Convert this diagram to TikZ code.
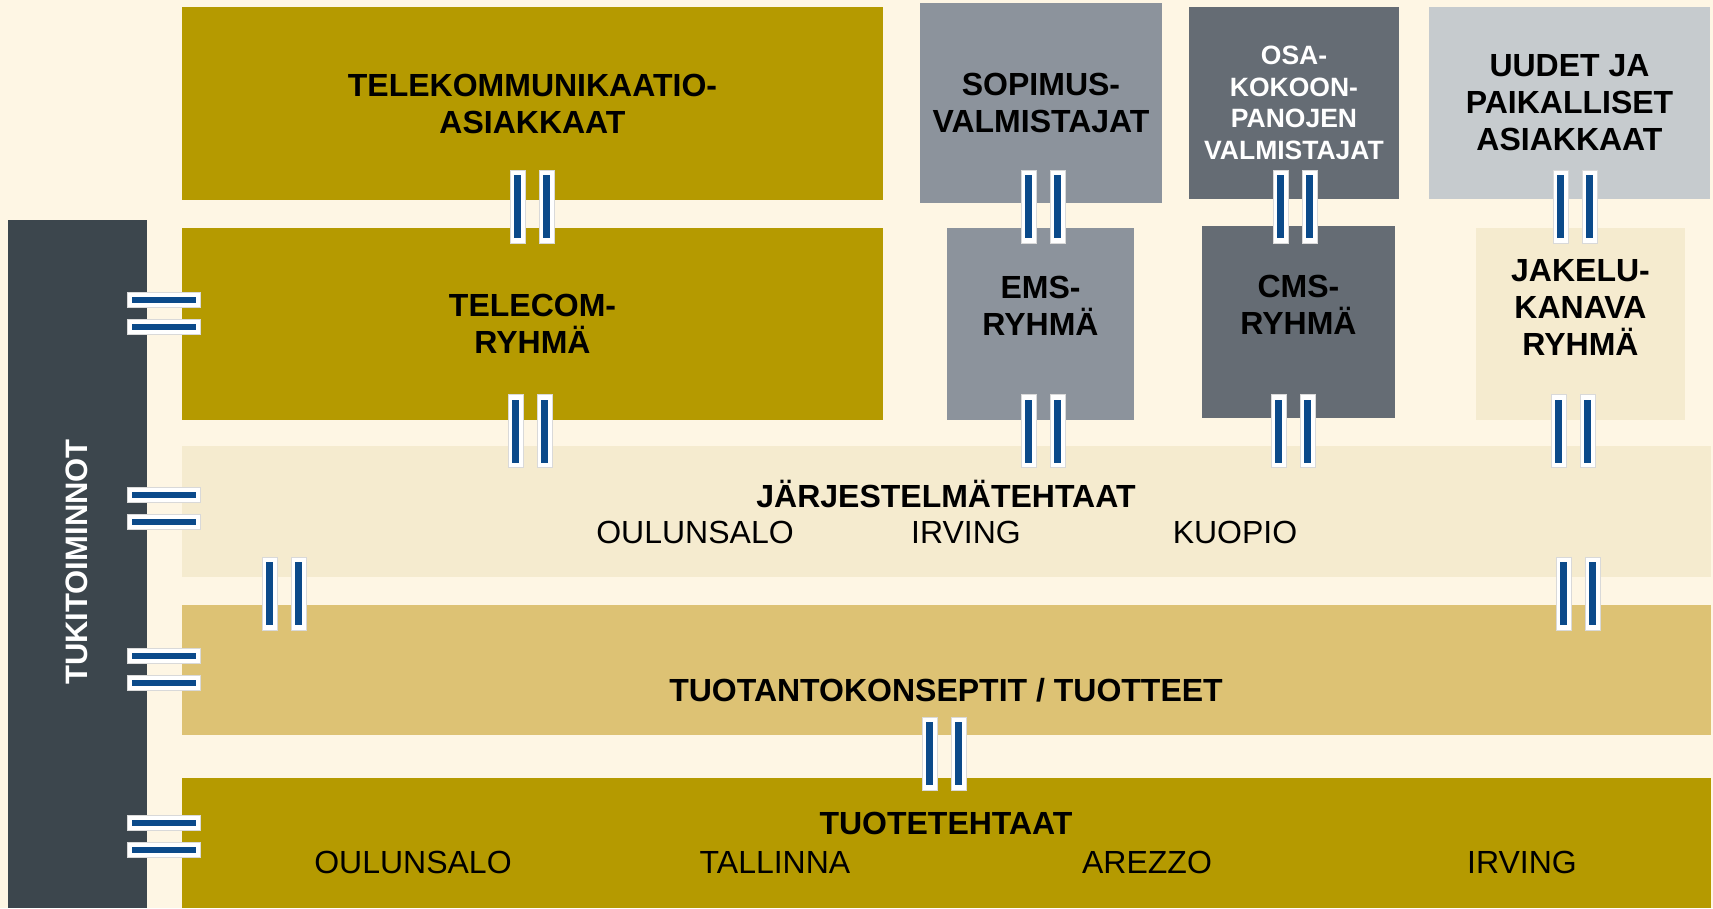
\documentclass[tikz,border=0pt]{standalone}
\usepackage{fontspec}
\setmainfont{Liberation Sans}
\definecolor{bg}{HTML}{FEF6E4}
\definecolor{gold}{HTML}{B59A00}
\definecolor{slate}{HTML}{3C464D}
\definecolor{midgray}{HTML}{8C939C}
\definecolor{darkgray}{HTML}{656C74}
\definecolor{lightgray}{HTML}{C6CBCE}
\definecolor{paleband}{HTML}{F5EBCF}
\definecolor{sandband}{HTML}{DDC274}
\definecolor{barblue}{HTML}{0B4A8A}
\tikzset{
  box/.style={inner sep=0pt, outer sep=0pt, draw=none, align=center,
    font=\fontsize{32}{37}\selectfont\bfseries},
  title/.style={inner sep=0pt, font=\fontsize{32}{37}\selectfont\bfseries, align=center},
  plain/.style={inner sep=0pt, font=\fontsize{32}{37}\selectfont},
  barout/.style={fill=white, draw=black!15, line width=0.8pt},
  barin/.style={fill=barblue},
  vbar/.pic={\path[barout] (-7.5,-36.5) rectangle (7.5,36.5);
             \path[barin] (-3.5,-31.5) rectangle (3.5,31.5);},
  vpair/.pic={\pic at (-14.5,0) {vbar}; \pic at (14.5,0) {vbar};},
  hbar/.pic={\path[barout] (-36.5,-7.5) rectangle (36.5,7.5);
             \path[barin] (-32,-3) rectangle (32,3);},
  hpair/.pic={\pic at (0,-13.5) {hbar}; \pic at (0,13.5) {hbar};}
}
\begin{document}
\begin{tikzpicture}[x=1pt,y=-1pt]
\fill[bg] (0,0) rectangle (1713,908);
\useasboundingbox (0,0) rectangle (1713,908);

% top row
\node[box, fill=gold, minimum width=701, minimum height=193] (telekom) at (532.5,103.5)
  {TELEKOMMUNIKAATIO-\\ASIAKKAAT};
\node[box, fill=midgray, minimum width=242, minimum height=200] (sopimus) at (1041,103)
  {SOPIMUS-\\VALMISTAJAT};
\node[box, fill=darkgray, minimum width=210, minimum height=192, text=white,
  font=\fontsize{26.5}{31.5}\selectfont\bfseries] (osa) at (1294,103)
  {OSA-\\KOKOON-\\PANOJEN\\VALMISTAJAT};
\node[box, fill=lightgray, minimum width=281, minimum height=192] (uudet) at (1569.5,103)
  {UUDET JA\\PAIKALLISET\\ASIAKKAAT};

% second row
\node[box, fill=gold, minimum width=701, minimum height=192] (telecom) at (532.5,324)
  {TELECOM-\\RYHMÄ};
\node[box, fill=midgray, minimum width=187, minimum height=192] (ems) at (1040.5,324) {};
\node[title] (emsT) at (1040.5,306) {EMS-\\RYHMÄ};
\node[box, fill=darkgray, minimum width=193, minimum height=192] (cms) at (1298.5,322) {};
\node[title] (cmsT) at (1298.5,305) {CMS-\\RYHMÄ};
\node[box, fill=paleband, minimum width=209, minimum height=192] (jakelu) at (1580.5,324) {};
\node[title] (jakeluT) at (1580.5,307) {JAKELU-\\KANAVA\\RYHMÄ};

% bands
\node[box, fill=paleband, minimum width=1529, minimum height=131] (jarj) at (946.5,511.5) {};
\node[title] (jarjT) at (946,494) {JÄRJESTELMÄTEHTAAT};
\node[plain] (j1) at (695,532) {OULUNSALO};
\node[plain] (j2) at (966,532) {IRVING};
\node[plain] (j3) at (1235,532) {KUOPIO};

\node[box, fill=sandband, minimum width=1529, minimum height=130] (tuotanto) at (946.5,670) {};
\node[title] (tuotantoT) at (946,690) {TUOTANTOKONSEPTIT / TUOTTEET};

\node[box, fill=gold, minimum width=1529, minimum height=130] (tuote) at (946.5,843) {};
\node[title] (tuoteT) at (946,823) {TUOTETEHTAAT};
\node[plain] (t1) at (413,862) {OULUNSALO};
\node[plain] (t2) at (775,862) {TALLINNA};
\node[plain] (t3) at (1147,862) {AREZZO};
\node[plain] (t4) at (1522,862) {IRVING};

% support column
\node[box, fill=slate, minimum width=139, minimum height=688] (tuki) at (77.5,564) {};
\node[title, text=white, rotate=90, font=\fontsize{31}{37}\selectfont\bfseries] (tukiT) at (77,562) {TUKITOIMINNOT};

% interface connectors (vertical)
\pic at (532,206.5) {vpair};
\pic at (1043,206.5) {vpair};
\pic at (1295,206.5) {vpair};
\pic at (1575,206.5) {vpair};
\pic at (530,431) {vpair};
\pic at (1043,431) {vpair};
\pic at (1293,431) {vpair};
\pic at (1573,431) {vpair};
\pic at (284,593.5) {vpair};
\pic at (1578,593.5) {vpair};
\pic at (944,753.5) {vpair};

% interface connectors (horizontal)
\pic at (163.5,313) {hpair};
\pic at (163.5,508) {hpair};
\pic at (163.5,669) {hpair};
\pic at (163.5,836) {hpair};
\end{tikzpicture}
\end{document}
